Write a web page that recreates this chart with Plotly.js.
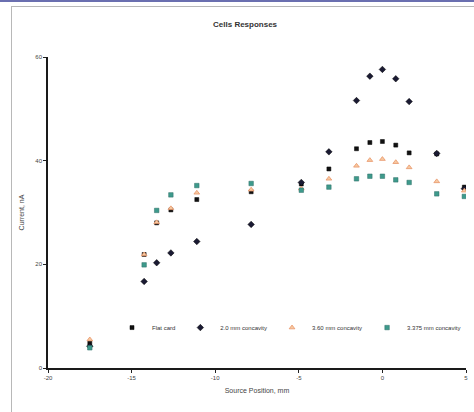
<!DOCTYPE html>
<html>
<head>
<meta charset="utf-8">
<script src="https://cdn.plot.ly/plotly-3.0.1.min.js"></script>
<style>
  html, body { margin: 0; padding: 0; background: #fff; }
  #wrap { position: relative; width: 474px; height: 412px; overflow: hidden; }
  #chart { position: absolute; left: 0; top: 0; width: 474px; height: 412px; }
  #frame { position: absolute; left: 11px; top: 6px; width: 480px; height: 420px; border: 1px solid #b8b8b8; pointer-events: none; }
  #topbar { position: absolute; left: 0; top: 0; width: 474px; height: 2px; background: #6a6fb0; }
</style>
</head>
<body>
<div id="wrap">
  <div id="chart"></div>
  <div id="frame"></div>
  <div id="topbar"></div>
</div>
<script>
const positions = [-17.5, -14.25, -13.5, -12.65, -11.1, -7.85, -4.85, -3.2, -1.55, -0.75, 0, 0.8, 1.6, 3.25, 4.9];
const flatCard   = [4.8, 21.9, 28.0, 30.5, 32.5, 34.0, 35.5, 38.4, 42.3, 43.5, 43.7, 43.0, 41.5, 41.3, 34.9];
const conc20     = [4.2, 16.7, 20.3, 22.2, 24.4, 27.7, 35.8, 41.7, 51.6, 56.3, 57.6, 55.8, 51.4, 41.4, 34.6];
const conc360    = [5.5, 21.9, 28.1, 30.8, 33.8, 34.4, 34.6, 36.5, 39.0, 40.1, 40.3, 39.7, 38.7, 36.0, 34.2];
const conc3375   = [3.9, 19.9, 30.4, 33.4, 35.2, 35.6, 34.3, 34.9, 36.5, 37.0, 37.0, 36.3, 35.8, 33.6, 33.1];
const seriesNames = ["Flat card", "2.0 mm concavity", "3.60 mm concavity", "3.375 mm concavity"];
const xTicks = [-20, -15, -10, -5, 0, 5];
const yTicks = [0, 20, 40, 60];

const traces = [
  { x: positions, y: flatCard, name: seriesNames[0], mode: 'markers', type: 'scatter',
    marker: { symbol: 'square', size: 4, color: '#111111', line: { color: '#000', width: 0.5 } } },
  { x: positions, y: conc20, name: seriesNames[1], mode: 'markers', type: 'scatter',
    marker: { symbol: 'diamond', size: 5, color: '#1a1a33', line: { color: '#000', width: 0.5 } } },
  { x: positions, y: conc360, name: seriesNames[2], mode: 'markers', type: 'scatter',
    marker: { symbol: 'triangle-up', size: 5, color: '#f7c9a0', line: { color: '#e8966a', width: 0.8 } } },
  { x: positions, y: conc3375, name: seriesNames[3], mode: 'markers', type: 'scatter',
    marker: { symbol: 'square', size: 4.5, color: '#3e9a8c', line: { color: '#2f6f66', width: 0.5 } } }
];

const layout = {
  width: 474, height: 412,
  margin: { l: 48, r: 8, t: 57, b: 44, pad: 0 },
  paper_bgcolor: '#ffffff', plot_bgcolor: '#ffffff',
  font: { family: 'Liberation Sans, Arial, sans-serif', size: 7, color: '#333' },
  title: { text: '<b>Cells Responses</b>', font: { size: 8, color: '#333' }, x: 0.517, xanchor: 'center', y: 0.942, yanchor: 'middle' },
  showlegend: true,
  legend: { orientation: 'h', x: 1.0, y: 0.13, xanchor: 'right', yanchor: 'middle',
            font: { size: 6, color: '#333' }, bgcolor: 'rgba(0,0,0,0)', itemwidth: 30, tracegroupgap: 0 },
  xaxis: {
    range: [-20, 5], tickvals: xTicks, ticktext: xTicks.map(String),
    showgrid: false, zeroline: false, showline: true, linecolor: '#1a1a1a', linewidth: 1.8,
    ticks: 'outside', ticklen: 3, tickcolor: '#222', tickfont: { size: 6, color: '#444' },
    title: { text: 'Source Position, mm', font: { size: 7, color: '#444' }, standoff: 8 }
  },
  yaxis: {
    range: [0, 60], tickvals: yTicks, ticktext: yTicks.map(String),
    showgrid: false, zeroline: false, showline: true, linecolor: '#1a1a1a', linewidth: 1.8,
    ticks: 'outside', ticklen: 3, tickcolor: '#222', tickfont: { size: 6, color: '#444' },
    title: { text: 'Current, nA', font: { size: 7, color: '#444' }, standoff: 10 }
  }
};

Plotly.newPlot('chart', traces, layout, { displayModeBar: false, staticPlot: true });
</script>
</body>
</html>
